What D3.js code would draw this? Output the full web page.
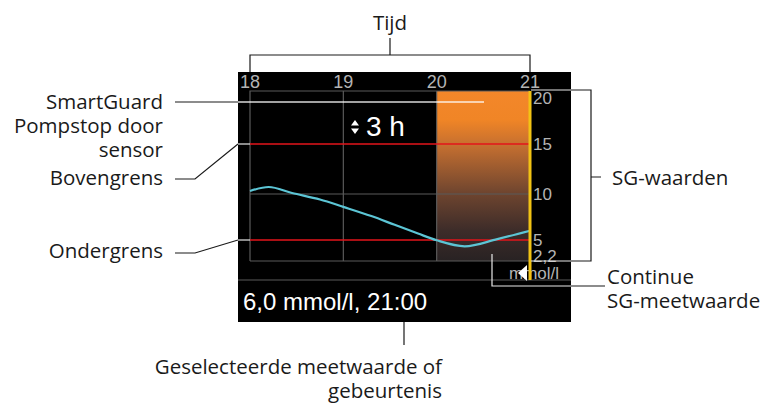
<!DOCTYPE html>
<html>
<head>
<meta charset="utf-8">
<script src="https://cdn.jsdelivr.net/npm/d3@7"></script>
<style>
body { margin: 0; background: #fff; }
svg { display: block; }
</style>
</head>
<body>
<div id="chart"></div>
<script>
//////////////////////////////////////////////////// DATA
var hourTicks = [18, 19, 20, 21];
var sgTicks = [20, 15, 10, 5, 2.2];
var sgTickLabels = ["20", "15", "10", "5", "2,2"];
var gridValues = [10];
var limitValues = [15, 5];           // bovengrens, ondergrens
var suspendPeriod = [20, 21];        // SmartGuard pompstop
var sgTimes  = [18.0, 18.2, 18.45, 18.75, 19.0, 19.3, 19.55, 19.8, 20.0, 20.3, 20.65, 21.0];
var sgValues = [10.3, 10.7, 10.1, 9.4, 8.6, 7.6, 6.65, 5.7, 4.95, 3.9, 5.1, 6.0];
var unitLabel = "mmol/l";
var rangeLabel = "3 h";
var selectedLabel = "6,0 mmol/l, 21:00";

//////////////////////////////////////////////////// LAYOUT
var totalW = 768, totalH = 403;
var scrL = 238, scrR = 571, scrT = 72, scrB = 322;
var plotT = 91, plotB = 261;
var screenFont = "'Liberation Sans', Arial, sans-serif";
var noteFont = "'Open Sans', 'Noto Sans', sans-serif";
var ink = "#1a1a1a";

var x = d3.scaleLinear().domain([18, 21]).range([250, 530]);
var y = d3.scaleLinear().domain([2.2, 5, 10, 15, 20]).range([256, 240, 194, 144, 98]);

var chart = d3.select("#chart").append("svg")
	.attr("width", totalW)
	.attr("height", totalH);

var defs = chart.append("defs");
var grad = defs.append("linearGradient")
	.attr("id", "suspendGrad")
	.attr("x1", 0).attr("y1", 0).attr("x2", 0).attr("y2", 1);
[[0, "#f3872a"], [0.17, "#f08526"], [0.32, "#c56f30"], [0.6, "#6f452f"], [0.82, "#3d2c29"], [1, "#282223"]]
	.forEach(function(s) {
		grad.append("stop").attr("offset", s[0]).attr("stop-color", s[1]);
	});

/////////// SCREEN
chart.append("rect")
	.attr("x", scrL).attr("y", scrT)
	.attr("width", scrR - scrL).attr("height", scrB - scrT)
	.attr("fill", "#000");

chart.append("rect")
	.attr("x", x(suspendPeriod[0])).attr("y", plotT)
	.attr("width", x(suspendPeriod[1]) - x(suspendPeriod[0]))
	.attr("height", plotB - plotT)
	.attr("fill", "url(#suspendGrad)");

/////////// GRID
var gridColor = "#5a5a5a";
var g = chart.append("g").attr("stroke", gridColor).attr("stroke-width", 1.2).attr("fill", "none");
g.append("path").attr("d", "M" + x(18) + "," + plotB + "V" + plotT + "H" + x(21));
g.append("path").attr("d", "M" + x(18) + "," + plotB + "H" + x(21));
g.selectAll("line.v")
	.data(hourTicks.slice(1, 3))
	.enter().append("line")
		.attr("x1", function(d) { return x(d); })
		.attr("x2", function(d) { return x(d); })
		.attr("y1", plotT).attr("y2", plotB);
g.selectAll("line.h")
	.data(gridValues)
	.enter().append("line")
		.attr("x1", x(18)).attr("x2", x(21))
		.attr("y1", function(d) { return y(d); })
		.attr("y2", function(d) { return y(d); });
chart.append("line")
	.attr("x1", scrL).attr("x2", scrR)
	.attr("y1", 280).attr("y2", 280)
	.attr("stroke", gridColor).attr("stroke-width", 1.2);

/////////// LIMITS
chart.selectAll("line.limit")
	.data(limitValues)
	.enter().append("line")
		.attr("x1", x(18)).attr("x2", x(21))
		.attr("y1", function(d) { return y(d); })
		.attr("y2", function(d) { return y(d); })
		.attr("stroke", "#e3141b").attr("stroke-width", 1.5);

/////////// SG CURVE
var line = d3.line()
	.x(function(d, i) { return x(sgTimes[i]); })
	.y(function(d) { return y(d); })
	.curve(d3.curveMonotoneX);
chart.append("path")
	.attr("d", line(sgValues))
	.attr("fill", "none")
	.attr("stroke", "#5cc5d5")
	.attr("stroke-width", 2.2);

/////////// LABELS ON SCREEN
chart.selectAll("text.hour")
	.data(hourTicks)
	.enter().append("text")
		.attr("x", function(d) { return x(d); })
		.attr("y", 88)
		.attr("text-anchor", "middle")
		.attr("font-family", screenFont)
		.attr("font-size", 18)
		.attr("fill", "#b4b4b4")
		.text(function(d) { return d; });

chart.selectAll("text.sg")
	.data(sgTicks)
	.enter().append("text")
		.attr("x", 533)
		.attr("y", function(d) { return y(d); })
		.attr("dy", "0.34em")
		.attr("font-family", screenFont)
		.attr("font-size", 17)
		.attr("fill", "#b4b4b4")
		.text(function(d, i) { return sgTickLabels[i]; });

chart.append("text")
	.attr("x", 509).attr("y", 279)
	.attr("font-family", screenFont)
	.attr("font-size", 17)
	.attr("fill", "#b4b4b4")
	.text(unitLabel);

// yellow "now" line and marker
chart.append("rect")
	.attr("x", x(21) - 1.5).attr("y", plotT)
	.attr("width", 3).attr("height", 280 - plotT)
	.attr("fill", "#f2c314");
chart.append("path")
	.attr("d", "M518,273L527,265L527,281Z")
	.attr("fill", "#fff");

// range indicator
chart.append("path")
	.attr("d", "M351,125.5L359,125.5L355,120Z M351,128.5L359,128.5L355,134Z")
	.attr("fill", "#fff");
chart.append("text")
	.attr("x", 366).attr("y", 136)
	.attr("font-family", screenFont)
	.attr("font-size", 28)
	.attr("fill", "#fff")
	.text(rangeLabel);

chart.append("text")
	.attr("x", 243).attr("y", 310)
	.attr("font-family", screenFont)
	.attr("font-size", 24)
	.attr("fill", "#fff")
	.text(selectedLabel);

/////////// CALLOUTS
function lead(d, color) {
	chart.append("path")
		.attr("d", d)
		.attr("fill", "none")
		.attr("stroke", color)
		.attr("stroke-width", 1.2);
}
var inside = "#e8e8e8";
// Tijd
lead("M" + x(18) + "," + scrT + "V55H" + x(21) + "V" + scrT + "M390,55V38", ink);
// SG-waarden
lead("M" + scrR + ",90H591V261H" + scrR + "M591,177H601", ink);
lead("M" + (x(21) + 1) + ",90H" + scrR + "M" + (x(21) + 1) + ",261H" + scrR, inside);
// Continue SG-meetwaarde
lead("M492,254V286H" + scrR, inside);
lead("M" + scrR + ",286H605", ink);
// Geselecteerde
lead("M404," + scrB + "V345", ink);
// SmartGuard
lead("M175,102H" + scrL, ink);
chart.append("line")
	.attr("x1", scrL).attr("x2", 484).attr("y1", 102).attr("y2", 102)
	.attr("stroke", "#fff").attr("stroke-opacity", 0.85).attr("stroke-width", 1.5);
// Bovengrens / Ondergrens
lead("M175,179H195L" + scrL + "," + y(limitValues[0]), ink);
lead("M" + scrL + "," + y(limitValues[0]) + "H" + x(18), inside);
lead("M175,253H195L" + scrL + "," + y(limitValues[1]), ink);
lead("M" + scrL + "," + y(limitValues[1]) + "H" + x(18), inside);

var notes = [
	{ t: "Tijd", x: 390, y: 30, a: "middle" },
	{ t: "SmartGuard", x: 163, y: 109, a: "end" },
	{ t: "Pompstop door", x: 163, y: 133, a: "end" },
	{ t: "sensor", x: 163, y: 157, a: "end" },
	{ t: "Bovengrens", x: 163, y: 185, a: "end" },
	{ t: "Ondergrens", x: 163, y: 258, a: "end" },
	{ t: "SG-waarden", x: 612, y: 185, a: "start" },
	{ t: "Continue", x: 607, y: 284, a: "start" },
	{ t: "SG-meetwaarde", x: 607, y: 308, a: "start" },
	{ t: "Geselecteerde meetwaarde of", x: 442, y: 374, a: "end" },
	{ t: "gebeurtenis", x: 442, y: 398, a: "end" }
];
chart.selectAll("text.note")
	.data(notes)
	.enter().append("text")
		.attr("x", function(d) { return d.x; })
		.attr("y", function(d) { return d.y; })
		.attr("text-anchor", function(d) { return d.a; })
		.attr("font-family", noteFont)
		.attr("font-size", 20.5)
		.attr("fill", ink)
		.text(function(d) { return d.t; });
</script>
</body>
</html>
